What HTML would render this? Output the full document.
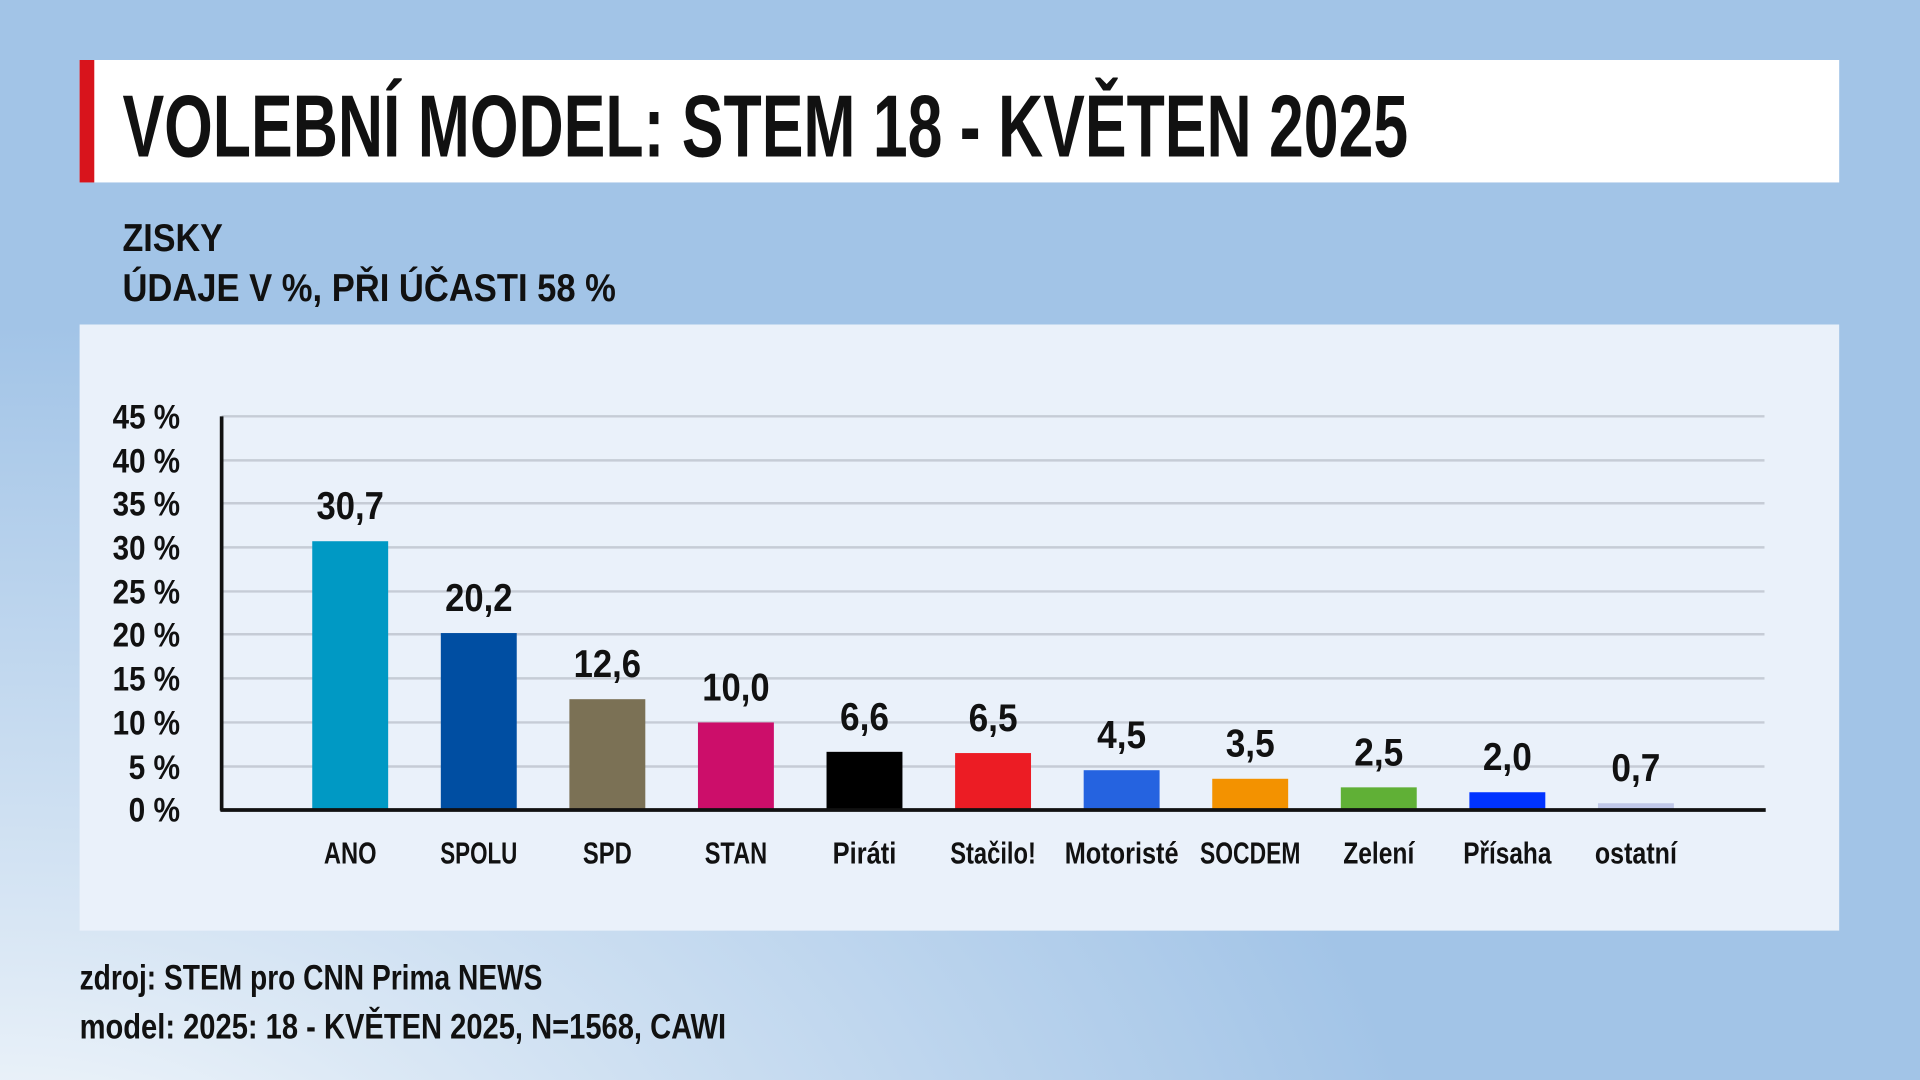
<!DOCTYPE html>
<html><head><meta charset="utf-8"><style>
html,body{margin:0;padding:0;width:1920px;height:1080px;overflow:hidden}
svg{display:block}
text{font-family:"Liberation Sans",sans-serif;font-weight:bold;fill:#111}
</style></head><body>
<svg width="1920" height="1080" viewBox="0 0 1568 882" xmlns="http://www.w3.org/2000/svg">
<defs>
<radialGradient id="bg" cx="0" cy="1" r="0.75" gradientTransform="scale(1,1.2)">
<stop offset="0" stop-color="#ffffff"/><stop offset="0.35" stop-color="#dbe8f5"/><stop offset="1" stop-color="#a2c4e7"/></radialGradient>
</defs>
<rect width="1568" height="882" fill="#a2c4e7"/>
<rect width="1568" height="882" fill="url(#bg)"/>
<rect x="65" y="49" width="1437" height="100" fill="#fff"/>
<rect x="65" y="49" width="12" height="100" fill="#d8141c"/>
<text x="100" y="128" font-size="72" textLength="1050" lengthAdjust="spacingAndGlyphs">VOLEBNÍ MODEL: STEM 18 - KVĚTEN 2025</text>
<text x="100" y="205" font-size="32" textLength="82" lengthAdjust="spacingAndGlyphs">ZISKY</text>
<text x="100" y="246" font-size="32" textLength="403" lengthAdjust="spacingAndGlyphs">ÚDAJE V %, PŘI ÚČASTI 58 %</text>
<rect x="65" y="265" width="1437" height="495" fill="#eaf1fa"/>
<g stroke="#c6ccd6" stroke-width="2">
<line x1="181" x2="1441" y1="340" y2="340"/><line x1="181" x2="1441" y1="376" y2="376"/>
<line x1="181" x2="1441" y1="411" y2="411"/><line x1="181" x2="1441" y1="447" y2="447"/>
<line x1="181" x2="1441" y1="483" y2="483"/><line x1="181" x2="1441" y1="518" y2="518"/>
<line x1="181" x2="1441" y1="554" y2="554"/><line x1="181" x2="1441" y1="590" y2="590"/>
<line x1="181" x2="1441" y1="626" y2="626"/>
</g>
<g font-size="28" text-anchor="end">
<text x="147" y="350" textLength="55" lengthAdjust="spacingAndGlyphs">45 %</text>
<text x="147" y="386" textLength="55" lengthAdjust="spacingAndGlyphs">40 %</text>
<text x="147" y="421" textLength="55" lengthAdjust="spacingAndGlyphs">35 %</text>
<text x="147" y="457" textLength="55" lengthAdjust="spacingAndGlyphs">30 %</text>
<text x="147" y="493" textLength="55" lengthAdjust="spacingAndGlyphs">25 %</text>
<text x="147" y="528" textLength="55" lengthAdjust="spacingAndGlyphs">20 %</text>
<text x="147" y="564" textLength="55" lengthAdjust="spacingAndGlyphs">15 %</text>
<text x="147" y="600" textLength="55" lengthAdjust="spacingAndGlyphs">10 %</text>
<text x="147" y="636" textLength="42" lengthAdjust="spacingAndGlyphs">5 %</text>
<text x="147" y="671" textLength="42" lengthAdjust="spacingAndGlyphs">0 %</text>
</g>
<g>
<rect x="255" y="442" width="62" height="219" fill="#0099c4"/>
<rect x="360" y="517" width="62" height="144" fill="#004ea2"/>
<rect x="465" y="571" width="62" height="90" fill="#7b7155"/>
<rect x="570" y="590" width="62" height="71" fill="#cc0e6a"/>
<rect x="675" y="614" width="62" height="47" fill="#000"/>
<rect x="780" y="615" width="62" height="46" fill="#ec1c24"/>
<rect x="885" y="629" width="62" height="32" fill="#2563e0"/>
<rect x="990" y="636" width="62" height="25" fill="#f39200"/>
<rect x="1095" y="643" width="62" height="18" fill="#60b036"/>
<rect x="1200" y="647" width="62" height="14" fill="#0033ff"/>
<rect x="1305" y="656" width="62" height="5" fill="#c0c8e8"/>
</g>
<line x1="181" y1="340" x2="181" y2="662" stroke="#111" stroke-width="3"/>
<line x1="180" y1="661.5" x2="1442" y2="661.5" stroke="#111" stroke-width="3"/>
<g font-size="32" text-anchor="middle">
<text x="286" y="424" textLength="55" lengthAdjust="spacingAndGlyphs">30,7</text>
<text x="391" y="499" textLength="55" lengthAdjust="spacingAndGlyphs">20,2</text>
<text x="496" y="553" textLength="55" lengthAdjust="spacingAndGlyphs">12,6</text>
<text x="601" y="572" textLength="55" lengthAdjust="spacingAndGlyphs">10,0</text>
<text x="706" y="596" textLength="40" lengthAdjust="spacingAndGlyphs">6,6</text>
<text x="811" y="597" textLength="40" lengthAdjust="spacingAndGlyphs">6,5</text>
<text x="916" y="611" textLength="40" lengthAdjust="spacingAndGlyphs">4,5</text>
<text x="1021" y="618" textLength="40" lengthAdjust="spacingAndGlyphs">3,5</text>
<text x="1126" y="625" textLength="40" lengthAdjust="spacingAndGlyphs">2,5</text>
<text x="1231" y="629" textLength="40" lengthAdjust="spacingAndGlyphs">2,0</text>
<text x="1336" y="638" textLength="40" lengthAdjust="spacingAndGlyphs">0,7</text>
</g>
<g font-size="25" text-anchor="middle">
<text x="286" y="705" textLength="43" lengthAdjust="spacingAndGlyphs">ANO</text>
<text x="391" y="705" textLength="63" lengthAdjust="spacingAndGlyphs">SPOLU</text>
<text x="496" y="705" textLength="40" lengthAdjust="spacingAndGlyphs">SPD</text>
<text x="601" y="705" textLength="51" lengthAdjust="spacingAndGlyphs">STAN</text>
<text x="706" y="705" textLength="52" lengthAdjust="spacingAndGlyphs">Piráti</text>
<text x="811" y="705" textLength="70" lengthAdjust="spacingAndGlyphs">Stačilo!</text>
<text x="916" y="705" textLength="93" lengthAdjust="spacingAndGlyphs">Motoristé</text>
<text x="1021" y="705" textLength="82" lengthAdjust="spacingAndGlyphs">SOCDEM</text>
<text x="1126" y="705" textLength="58" lengthAdjust="spacingAndGlyphs">Zelení</text>
<text x="1231" y="705" textLength="72" lengthAdjust="spacingAndGlyphs">Přísaha</text>
<text x="1336" y="705" textLength="67" lengthAdjust="spacingAndGlyphs">ostatní</text>
</g>
<text x="65" y="808" font-size="29" textLength="378" lengthAdjust="spacingAndGlyphs">zdroj: STEM pro CNN Prima NEWS</text>
<text x="65" y="848" font-size="29" textLength="528" lengthAdjust="spacingAndGlyphs">model: 2025: 18 - KVĚTEN 2025, N=1568, CAWI</text>
</svg>
</body></html>
